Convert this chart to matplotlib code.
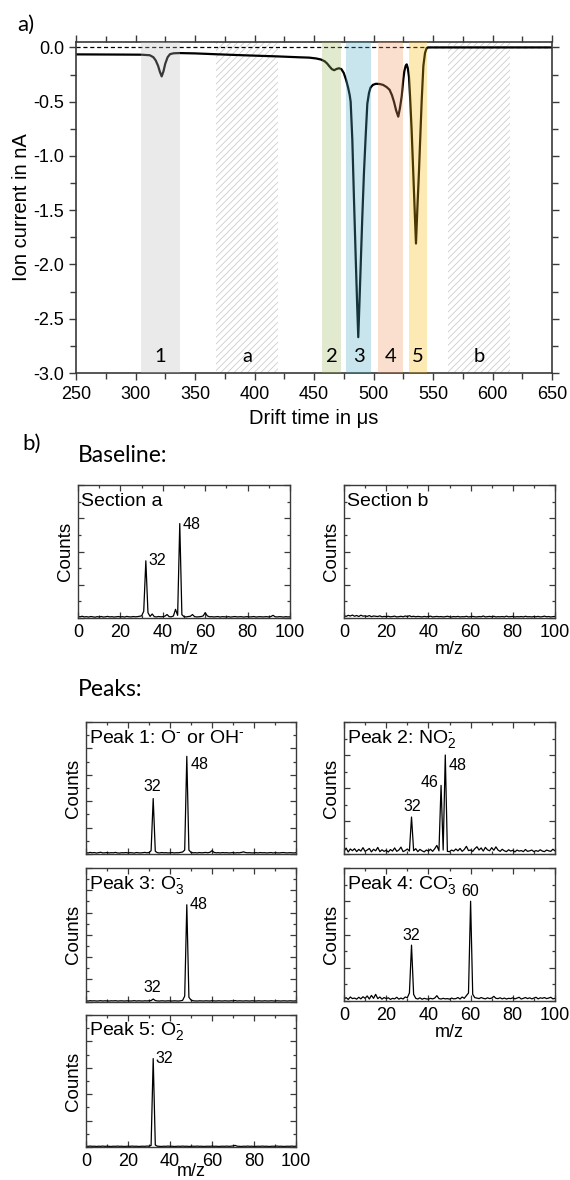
import numpy as np
import matplotlib
matplotlib.use("Agg")
import matplotlib.pyplot as plt
from matplotlib.ticker import MultipleLocator, FormatStrFormatter

plt.rcParams['font.family'] = ['Liberation Sans', 'DejaVu Sans']
plt.rcParams['mathtext.fontset'] = 'custom'
plt.rcParams['mathtext.rm'] = 'Liberation Sans'
plt.rcParams['mathtext.it'] = 'Liberation Sans:italic'
plt.rcParams['axes.unicode_minus'] = False
plt.rcParams['hatch.linewidth'] = 0.6

# ---------------- drift spectrum (panel a) ----------------
drift_time = [250, 270, 290, 305, 312, 315, 317, 319, 320.5, 322,
              323.5, 325, 327, 329, 332, 337, 350, 368, 390, 420,
              438, 446, 452, 456, 459, 461, 463, 465, 467, 469,
              471, 473, 475, 477, 478.8, 480, 480.8, 482.2, 483.6, 485,
              486.2, 487.2, 488.2, 489.5, 490.6, 492, 493.5, 494.8, 496.2, 497.5,
              499.5, 502, 505, 508, 511, 513.5, 515.5, 517.2, 519, 520.8,
              522.2, 523.7, 525, 525.9, 527, 527.9, 528.8, 529.8, 530.7, 532,
              533.4, 534.6, 535.7, 536.8, 538.2, 539.4, 540.5, 541.9, 543.3, 544.7,
              546, 600, 650]
ion_current = [-0.064, -0.065, -0.066, -0.067, -0.072, -0.09, -0.12, -0.17, -0.225, -0.267,
               -0.22, -0.15, -0.09, -0.062, -0.054, -0.052, -0.055, -0.063, -0.072, -0.083,
               -0.091, -0.094, -0.102, -0.112, -0.128, -0.148, -0.175, -0.2, -0.21, -0.198,
               -0.192, -0.2, -0.235, -0.3, -0.377, -0.44, -0.5, -0.85, -1.4, -1.92,
               -2.35, -2.67, -2.35, -1.92, -1.56, -1.15, -0.8, -0.52, -0.42, -0.37,
               -0.345, -0.335, -0.337, -0.345, -0.365, -0.39, -0.44, -0.5, -0.58, -0.638,
               -0.56, -0.45, -0.3, -0.22, -0.17, -0.156, -0.19, -0.27, -0.45, -0.75,
               -1.15, -1.5, -1.807, -1.5, -1.147, -0.8, -0.49, -0.17, -0.05, -0.005,
               0.0, 0.0, 0.0]

section_labels = ['1', 'a', '2', '3', '4', '5', 'b']
section_start = [305, 368, 457, 477, 504, 530, 563]
section_end = [337, 420, 473, 498, 525, 545, 615]
section_colors = ['#bcbcbc', None, '#9eb962', '#4ba8c6', '#f2975f', '#f8b908', None]

# ---------------- mass spectra (panel b) ----------------
mz = list(range(0, 101))

section_a_counts = [
    1.2, 0.9, 1.3, 0.8, 1.0, 0.7, 1.1, 0.9, 0.6, 1.0,
    0.8, 1.1, 0.7, 0.9, 1.2, 0.8, 1.0, 0.7, 0.9, 1.1,
    0.8, 1.0, 0.7, 1.2, 0.9, 0.8, 1.1, 0.9, 1.0, 1.3,
    1.6, 5.0, 43.0, 4.0, 1.2, 3.0, 1.0, 0.8, 1.1, 0.9,
    1.0, 1.4, 2.6, 1.0, 0.9, 1.5, 6.5, 2.0, 71.0, 2.5,
    1.0, 0.8, 1.1, 1.3, 2.6, 1.0, 0.8, 0.9, 1.1, 1.5,
    4.0, 1.6, 0.9, 1.0, 0.8, 0.9, 1.1, 0.7, 1.0, 0.9,
    0.8, 1.0, 0.7, 0.9, 1.1, 0.8, 0.9, 1.0, 0.7, 0.9,
    1.0, 0.8, 0.9, 1.1, 0.7, 0.9, 1.0, 0.8, 0.9, 1.0,
    0.8, 1.1, 2.0, 0.9, 0.8, 1.0, 0.9, 0.7, 1.0, 0.8,
    0.9]

section_b_counts = [
    1.8, 1.2, 2.0, 1.5, 2.2, 1.3, 1.9, 1.1, 2.1, 1.4,
    1.6, 1.2, 1.8, 1.0, 1.5, 1.3, 1.1, 1.6, 0.9, 1.2,
    1.0, 1.3, 0.9, 1.1, 1.4, 0.8, 1.0, 1.3, 0.9, 1.5,
    1.1, 1.7, 1.0, 1.3, 0.9, 1.2, 1.0, 0.8, 1.2, 0.9,
    1.1, 1.4, 0.8, 1.0, 1.2, 0.9, 1.1, 0.8, 1.0, 1.3,
    0.9, 0.8, 1.1, 0.9, 1.2, 0.8, 1.0, 0.9, 1.3, 0.8,
    1.0, 1.2, 0.9, 0.8, 1.1, 0.9, 1.5, 0.8, 1.0, 1.2,
    0.9, 1.3, 0.8, 1.0, 0.9, 1.1, 0.8, 1.4, 0.9, 1.0,
    1.2, 0.8, 1.0, 0.9, 1.1, 0.8, 1.3, 0.9, 1.0, 0.8,
    1.1, 0.9, 1.2, 0.8, 1.0, 1.4, 0.9, 1.1, 0.8, 1.0,
    1.2]

peak1_counts = [
    1.0, 0.8, 1.2, 0.9, 1.1, 0.7, 1.0, 1.3, 0.8, 0.9,
    1.1, 0.8, 1.0, 0.9, 1.2, 0.8, 0.7, 1.0, 0.9, 1.1,
    0.8, 1.0, 0.9, 0.7, 1.1, 0.9, 0.8, 1.0, 1.2, 0.9,
    1.1, 2.5, 42.0, 2.0, 1.0, 0.8, 1.1, 0.9, 1.0, 0.8,
    0.9, 1.1, 0.8, 1.0, 0.9, 1.2, 1.5, 3.0, 74.0, 3.0,
    1.2, 0.9, 1.0, 0.8, 1.1, 0.9, 1.0, 1.2, 0.9, 1.3,
    2.5, 1.2, 0.9, 1.0, 0.8, 1.1, 0.9, 1.0, 0.8, 0.9,
    1.1, 0.8, 1.0, 0.9, 1.2, 1.6, 1.1, 0.9, 1.0, 0.8,
    0.9, 1.0, 0.8, 1.1, 0.9, 1.0, 0.8, 0.9, 1.1, 0.8,
    1.0, 0.9, 0.8, 1.0, 1.1, 0.9, 0.8, 1.0, 0.9, 0.8,
    1.0]

peak2_counts = [
    2.0, 4.5, 1.5, 3.8, 2.5, 4.0, 1.8, 3.5, 2.2, 4.8,
    2.0, 3.0, 4.2, 1.6, 3.6, 2.4, 5.0, 1.8, 3.2, 2.0,
    2.8, 1.5, 3.4, 2.2, 4.6, 2.0, 3.0, 5.2, 1.8, 2.6,
    3.8, 2.2, 28.0, 2.5, 4.0, 1.8, 3.5, 2.4, 1.6, 3.0,
    2.2, 3.6, 2.0, 4.0, 6.5, 2.4, 52.0, 3.0, 75.0, 2.0,
    1.8, 3.0, 2.2, 3.8, 2.4, 4.2, 2.0, 3.4, 5.8, 2.6,
    3.0, 2.0, 4.0, 5.5, 3.0, 4.6, 2.2, 5.0, 3.2, 2.4,
    4.8, 2.8, 5.4, 3.0, 2.0, 3.6, 2.4, 1.8, 3.2, 2.2,
    2.8, 1.6, 3.0, 2.2, 2.6, 1.8, 3.4, 2.0, 2.4, 3.0,
    1.8, 2.6, 2.0, 3.2, 2.2, 1.8, 3.0, 2.4, 2.0, 3.6,
    2.4]

peak3_counts = [
    0.8, 0.6, 0.9, 0.7, 0.8, 0.6, 0.7, 0.9, 0.6, 0.8,
    0.7, 0.6, 0.8, 0.7, 0.9, 0.6, 0.7, 0.8, 0.6, 0.7,
    0.8, 0.6, 0.7, 0.9, 0.6, 0.8, 0.7, 0.6, 0.8, 0.7,
    0.8, 1.0, 2.4, 1.0, 0.7, 0.6, 0.8, 0.7, 0.6, 0.8,
    0.7, 0.6, 0.8, 0.7, 0.6, 0.8, 1.2, 5.0, 87.0, 4.0,
    1.5, 0.8, 0.7, 0.6, 0.8, 0.7, 0.6, 0.8, 0.7, 0.6,
    0.9, 0.7, 0.6, 0.8, 0.7, 0.6, 0.8, 0.7, 0.6, 0.8,
    0.7, 1.0, 0.6, 0.8, 0.7, 0.6, 0.8, 0.7, 0.6, 0.8,
    0.7, 0.6, 0.8, 0.7, 0.6, 0.8, 0.7, 0.6, 0.8, 0.7,
    0.6, 0.8, 0.7, 0.6, 0.8, 0.7, 0.6, 0.8, 0.7, 0.6,
    0.8]

peak4_counts = [
    1.5, 2.5, 1.2, 3.0, 1.8, 2.2, 1.4, 2.8, 1.6, 3.2,
    2.0, 3.8, 1.5, 4.2, 2.0, 5.0, 1.8, 3.0, 1.4, 2.6,
    1.8, 2.4, 1.2, 2.0, 1.6, 2.8, 1.4, 2.2, 1.5, 3.0,
    2.5, 6.0, 42.0, 5.0, 2.0, 1.5, 2.4, 1.3, 2.0, 1.6,
    1.4, 2.0, 1.6, 2.2, 4.0, 1.8, 1.5, 2.0, 1.6, 1.8,
    1.4, 2.2, 1.6, 1.8, 2.6, 1.5, 3.0, 2.0, 4.0, 6.0,
    75.0, 5.0, 2.5, 2.2, 1.8, 2.6, 2.0, 1.6, 2.4, 1.8,
    2.2, 3.5, 2.0, 1.8, 2.4, 1.6, 2.2, 1.5, 2.0, 1.8,
    2.4, 1.6, 2.2, 2.8, 1.5, 2.0, 2.6, 1.8, 2.4, 1.6,
    2.2, 2.8, 1.6, 2.4, 2.0, 2.6, 1.8, 2.2, 2.8, 1.6,
    2.0]

peak5_counts = [
    0.6, 0.5, 0.7, 0.5, 0.6, 0.4, 0.6, 0.5, 0.7, 0.5,
    0.6, 0.5, 0.4, 0.6, 0.5, 0.7, 0.5, 0.6, 0.4, 0.5,
    0.6, 0.5, 0.7, 0.5, 0.6, 0.4, 0.5, 0.6, 0.5, 0.7,
    0.6, 1.2, 67.0, 1.5, 0.6, 0.5, 0.4, 0.6, 0.5, 0.7,
    0.5, 0.6, 0.4, 0.5, 0.6, 0.5, 0.7, 0.5, 0.6, 0.4,
    0.5, 0.6, 0.5, 0.7, 0.5, 0.6, 0.4, 0.5, 0.6, 0.5,
    0.7, 0.5, 0.6, 0.4, 0.5, 0.6, 0.5, 0.7, 0.5, 0.6,
    0.8, 1.2, 0.6, 0.5, 0.4, 0.6, 0.5, 0.7, 0.5, 0.6,
    0.4, 0.5, 0.6, 0.5, 0.7, 0.5, 0.6, 0.4, 0.5, 0.6,
    0.5, 0.7, 0.5, 0.6, 0.4, 0.5, 0.6, 0.5, 0.7, 0.5,
    0.6]

W, H = 570, 1180
fig = plt.figure(figsize=(W / 100, H / 100), dpi=100)


def rect(left, top, right, bottom):
    return [left / W, 1 - bottom / H, (right - left) / W, (bottom - top) / H]


SPINE = '#3a3a3a'
HUMANIST = ['Lato', 'DejaVu Sans']

# ---------------- panel a ----------------
ax = fig.add_axes(rect(76, 42, 552, 373))
for lab, s, e, c in zip(section_labels, section_start, section_end, section_colors):
    if c is None:
        ax.axvspan(s, e, facecolor='none', edgecolor='#cdcdcd', hatch='/////',
                   lw=0, zorder=1)
    else:
        ax.axvspan(s, e, facecolor=c, alpha=0.3, lw=0, zorder=3)
    ax.text((s + e) / 2, -2.85, lab, ha='center', va='center', fontsize=14.5,
            family=HUMANIST, zorder=5)
ax.axhline(0, color='k', lw=0.9, ls=(0, (3.3, 2.2)), zorder=2)
ax.plot(drift_time, ion_current, color='k', lw=1.6, zorder=2)
ax.set_xlim(250, 650)
ax.set_ylim(-3.0, 0.05)
ax.xaxis.set_major_locator(MultipleLocator(50))
ax.xaxis.set_minor_locator(MultipleLocator(25))
ax.yaxis.set_major_locator(MultipleLocator(0.5))
ax.yaxis.set_minor_locator(MultipleLocator(0.25))
ax.yaxis.set_major_formatter(FormatStrFormatter('%.1f'))
ax.tick_params(which='both', direction='out', top=True, right=True,
               labelsize=13, color=SPINE, width=1.0)
ax.tick_params(which='major', length=5)
ax.tick_params(which='minor', length=4)
ax.tick_params(axis='x', which='major', pad=4.5)
for sp in ax.spines.values():
    sp.set_color(SPINE)
    sp.set_linewidth(1.2)
ax.set_xlabel('Drift time in μs', fontsize=14.5, labelpad=4)
ax.set_ylabel('Ion current in nA', fontsize=14.5, labelpad=2)

fig.text(26 / W, 1 - 25 / H, 'a)', family=HUMANIST, fontsize=16,
         ha='center', va='center')
fig.text(32 / W, 1 - 444 / H, 'b)', family=HUMANIST, fontsize=16,
         ha='center', va='center')
fig.text(78 / W, 1 - 455 / H, 'Baseline:', family=HUMANIST, fontsize=16.5,
         ha='left', va='center')
fig.text(78 / W, 1 - 689 / H, 'Peaks:', family=HUMANIST, fontsize=16.5,
         ha='left', va='center')


# ---------------- panel b ----------------
def spectrum_panel(box, counts, ytop, ymajor, title, notes, show_x, xpad=0):
    sax = fig.add_axes(rect(*box))
    sax.plot(mz, counts, color='k', lw=0.9)
    sax.set_xlim(0, 100)
    sax.set_ylim(0, ytop)
    sax.xaxis.set_major_locator(MultipleLocator(20))
    sax.xaxis.set_minor_locator(MultipleLocator(10))
    sax.yaxis.set_major_locator(MultipleLocator(ymajor))
    sax.yaxis.set_minor_locator(MultipleLocator(ymajor / 2))
    sax.tick_params(which='both', direction='in', top=True, right=True,
                    labelleft=False, labelsize=13, color=SPINE, width=0.9)
    sax.tick_params(which='major', length=4)
    sax.tick_params(which='minor', length=2)
    sax.tick_params(axis='x', which='major', pad=4.5)
    for sp in sax.spines.values():
        sp.set_color(SPINE)
        sp.set_linewidth(1.0)
    sax.set_ylabel('Counts', fontsize=13.5, labelpad=3)
    if show_x:
        sax.set_xlabel('m/z', fontsize=13, labelpad=xpad)
    else:
        sax.tick_params(labelbottom=False)
    sax.text(0.016, 0.875, title, transform=sax.transAxes, fontsize=14,
             ha='left', va='center')
    for txt, x, y, ha in notes:
        sax.text(x, y, txt, ha=ha, va='center', fontsize=11.5)
    return sax


spectrum_panel((78, 485, 290, 618), section_a_counts, 100, 25, 'Section a',
               [('32', 33.2, 43.5, 'left'), ('48', 49.3, 70.5, 'left')], True)
spectrum_panel((344, 485, 555, 618), section_b_counts, 100, 25, 'Section b',
               [], True)
spectrum_panel((86, 722, 296, 854), peak1_counts, 100, 20,
               r'Peak 1: O$^{\text{-}}$ or OH$^{\text{-}}$',
               [('32', 31.6, 51, 'center'), ('48', 50, 68, 'left')], False)
spectrum_panel((344, 722, 555, 854), peak2_counts, 100, 25,
               r'Peak 2: NO$_{2}^{\text{-}}$',
               [('32', 32.4, 36, 'center'), ('46', 44.7, 54, 'right'),
                ('48', 49.5, 67, 'left')], False)
spectrum_panel((86, 868, 296, 1001.7), peak3_counts, 120, 20,
               r'Peak 3: O$_{3}^{\text{-}}$',
               [('32', 31.7, 12.9, 'center'), ('48', 49.2, 87.4, 'left')], False)
spectrum_panel((344, 868, 555, 1001), peak4_counts, 100, 25,
               r'Peak 4: CO$_{3}^{\text{-}}$',
               [('32', 32.1, 49.6, 'center'), ('60', 60, 82, 'center')], True)
spectrum_panel((86, 1015, 296, 1147), peak5_counts, 100, 20,
               r'Peak 5: O$_{2}^{\text{-}}$',
               [('32', 33.3, 67, 'left')], True, xpad=-5)

fig.savefig('out.png', dpi=100)
